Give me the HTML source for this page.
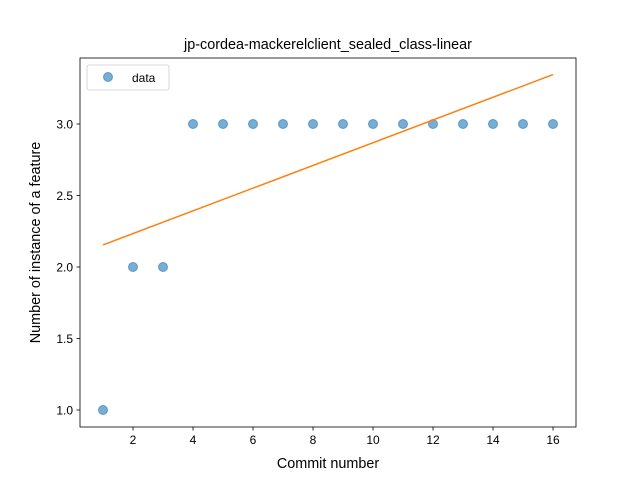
<!DOCTYPE html>
<html><head><meta charset="utf-8"><style>
body{margin:0;background:#fff;}
svg text{font-family:"Liberation Sans","DejaVu Sans",sans-serif;}
</style></head><body>
<svg id="chart" width="640" height="480" xmlns="http://www.w3.org/2000/svg">
<rect width="640" height="480" fill="#fff"/>
<text x="328" y="49" font-size="14.4" text-anchor="middle">jp-cordea-mackerelclient_sealed_class-linear</text>
<g id="plot"></g>
<rect x="80" y="58" width="496" height="369" fill="none" stroke="#000" stroke-width="0.8"/>
<text x="328" y="468" font-size="14.4" text-anchor="middle">Commit number</text>
<text transform="translate(40,242.5) rotate(-90)" font-size="14.4" text-anchor="middle">Number of instance of a feature</text>
<g>
<rect x="87" y="65" width="82" height="25" rx="2" fill="#fff" stroke="#ccc" stroke-width="0.8"/>
<circle cx="108" cy="77" r="4.5" fill="#1f77b4" fill-opacity="0.6" stroke="#1f77b4" stroke-opacity="0.6"/>
<text x="132" y="82" font-size="12">data</text>
</g>
</svg>
<script>
const commits=[1,2,3,4,5,6,7,8,9,10,11,12,13,14,15,16];
const counts=[1,2,2,3,3,3,3,3,3,3,3,3,3,3,3,3];
const xTicks=[2,4,6,8,10,12,14,16];
const yTicks=[1.0,1.5,2.0,2.5,3.0];
const ns="http://www.w3.org/2000/svg";
const X=v=>103+(v-1)*30;
const Y=v=>410-(v-1)*143;
const g=document.getElementById('plot');
function mk(t,a){const e=document.createElementNS(ns,t);for(const k in a)e.setAttribute(k,a[k]);g.appendChild(e);return e;}
xTicks.forEach(v=>{
 const l=mk('line',{x1:X(v),x2:X(v),y1:427,y2:430.5,stroke:'#000','stroke-width':0.8});
 
 
 const t=mk('text',{x:X(v),y:444,'font-size':12,'text-anchor':'middle'});t.textContent=v;
 
 
});
yTicks.forEach(v=>{
 const l=mk('line',{x1:76.5,x2:80,y1:Y(v),y2:Y(v),stroke:'#000','stroke-width':0.8});
 
 
 const t=mk('text',{x:73,y:Y(v)+4.5,'font-size':12,'text-anchor':'end'});t.textContent=v.toFixed(1);
 
 
});
commits.forEach((c,i)=>{
 const p=mk('circle',{cx:X(c),cy:Y(counts[i]),r:4.5,fill:'#1f77b4','fill-opacity':0.6,stroke:'#1f77b4','stroke-opacity':0.6});
 
 
});
const n=commits.length,mx=commits.reduce((a,b)=>a+b)/n,my=counts.reduce((a,b)=>a+b)/n;
let sxy=0,sxx=0;commits.forEach((c,i)=>{sxy+=(c-mx)*(counts[i]-my);sxx+=(c-mx)*(c-mx);});
const slope=sxy/sxx,ic=my-slope*mx;
const x0=commits[0],x1=commits[n-1];
const fl=mk('line',{x1:X(x0),y1:Y(ic+slope*x0),x2:X(x1),y2:Y(ic+slope*x1),stroke:'#ff7f0e','stroke-width':1.5});


</script>
</body></html>
